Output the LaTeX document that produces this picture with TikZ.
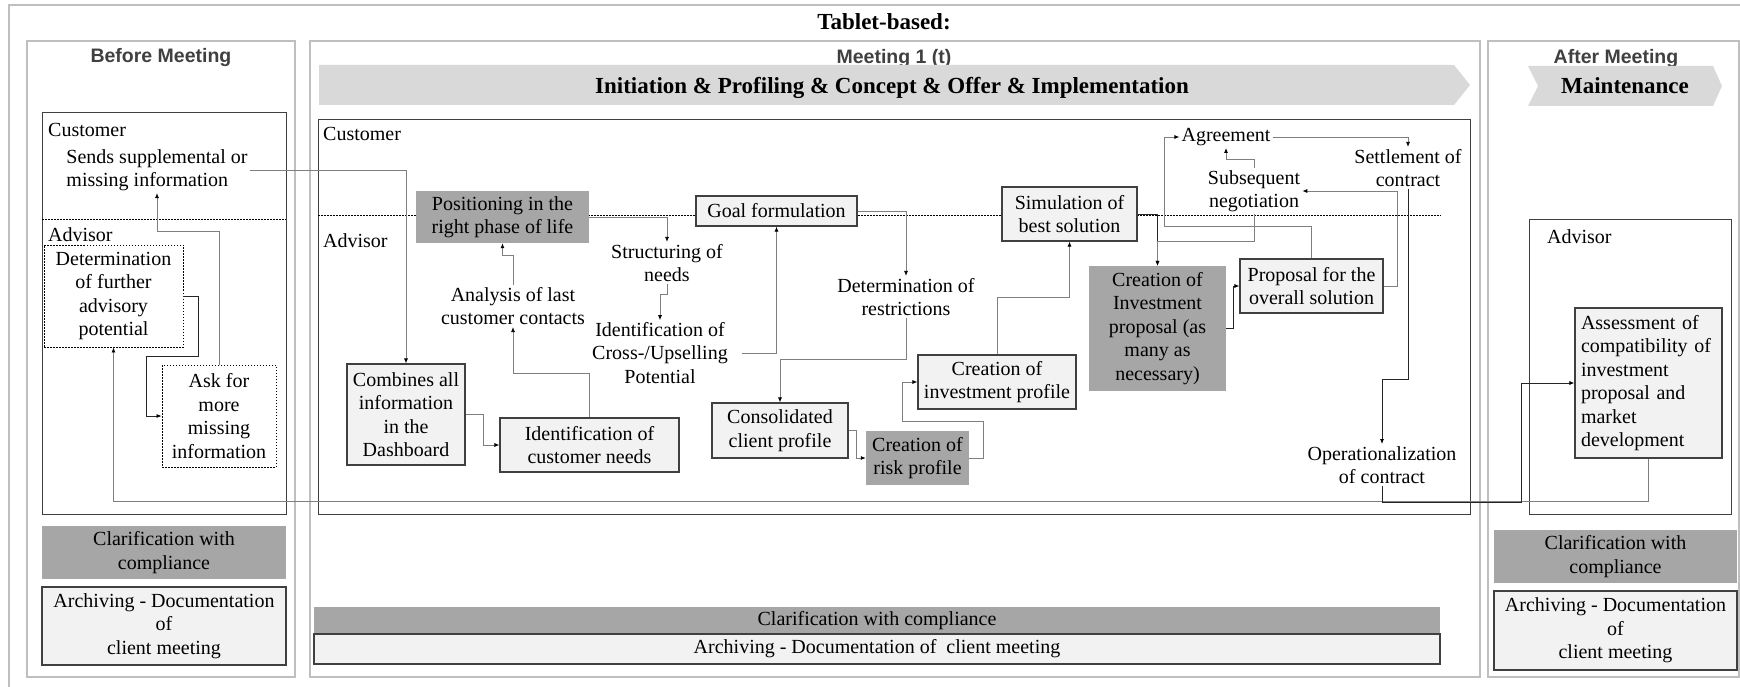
\documentclass[tikz,border=0pt]{standalone}
\usepackage{fontspec}
\setmainfont{Liberation Serif}
\newfontfamily\hdsans{Liberation Sans}
\usetikzlibrary{arrows.meta}
\definecolor{darkfill}{HTML}{A6A6A6}
\definecolor{lightfill}{HTML}{F2F2F2}
\definecolor{chevfill}{HTML}{D9D9D9}
\definecolor{panelline}{HTML}{BFBFBF}
\definecolor{boxline}{HTML}{404040}
\definecolor{lineg}{HTML}{7F7F7F}
\definecolor{titlegray}{HTML}{404040}
\tikzset{
  every node/.style={font=\fontsize{20}{23.5}\selectfont, inner sep=2pt},
  lbox/.style={draw=boxline, fill=lightfill, line width=1.1pt, inner sep=0pt, align=center},
  dbox/.style={fill=darkfill, inner sep=0pt, align=center},
  txt/.style={align=center, inner sep=2pt},
  dotbox/.style={draw=black, dash pattern=on 1.5pt off 1.5pt, line width=0.9pt, inner sep=0pt, align=center},
  conn/.style={draw=lineg, line width=0.8pt, -{Latex[length=5pt,width=4pt,color=black]}},
  connk/.style={conn, draw=black!85},
  panel/.style={draw=panelline, line width=1.2pt},
  lane/.style={draw=boxline, line width=1pt},
  dotline/.style={draw=black, dash pattern=on 1.5pt off 1.5pt, line width=0.8pt},
  chev/.style={fill=chevfill},
  paneltitle/.style={font=\hdsans\bfseries\fontsize{19.5}{22}\selectfont, text=titlegray, anchor=base},
  bighead/.style={font=\bfseries\fontsize{23}{26}\selectfont, anchor=base},
}
\begin{document}
\begin{tikzpicture}[x=1pt,y=-1pt]
\useasboundingbox (0,0) rectangle (1740,687);
\fill[white] (0,0) rectangle (1740,687);
% outer frame
\draw[panel] (1740,5) -- (9,5) -- (9,687);
\node[bighead] (tablet) at (884,30) {Tablet-based:};

% ---------------- panels ----------------
\draw[panel] (27,41) rectangle (295,677);
\draw[panel] (310,41) rectangle (1480,677);
\draw[panel] (1488,41) rectangle (1739,677);

\node[paneltitle] (titleB) at (161,62.5) {Before Meeting};
\node[paneltitle] (titleM) at (894,63.5) {Meeting 1 (t)};
\node[paneltitle] (titleA) at (1616,63.5) {After Meeting};

% chevrons
\fill[chev] (319,65) -- (1454,65) -- (1470,85) -- (1454,105) -- (319,105) -- cycle;
\node[bighead] (phaseM) at (892,94) {Initiation \& Profiling \& Concept \& Offer \& Implementation};
\fill[chev] (1528,66) -- (1713,66) -- (1722,86) -- (1713,106) -- (1528,106) -- (1538,86) -- cycle;
\node[bighead] (phaseA) at (1625,94) {Maintenance};

% ---------------- Before Meeting ----------------
\draw[lane] (42,113) rectangle (286,514);
\draw[dotline] (42,219) -- (286,219);
\node[txt, anchor=west] (custB) at (46,130) {Customer};
\node[txt, anchor=west] (advB) at (46,235) {Advisor};
\node[txt, align=left] (sends) at (157,170) {Sends supplemental or\\missing information};
\node[dotbox, minimum width=139, minimum height=102] (det) at (113.5,296) {Determination\\of further\\advisory\\potential};
\node[dotbox, minimum width=114, minimum height=102] (ask) at (219,416) {Ask for\\more\\missing\\information};
\node[dbox, minimum width=244, minimum height=53] (clarB) at (164,552.5) {Clarification with\\compliance};
\node[lbox, minimum width=244, minimum height=78] (archB) at (164,626) {Archiving - Documentation\\of\\client meeting};

% ---------------- Meeting ----------------
\draw[lane] (318,120) rectangle (1470,514);
\draw[dotline] (318,215) -- (1441,215);
\node[txt, anchor=west] (custM) at (321,134) {Customer};
\node[txt, anchor=west] (advM) at (321,241) {Advisor};

\node[dbox, minimum width=173, minimum height=52] (pos) at (502.5,217) {Positioning in the\\right phase of life};
\node[txt] (analysis) at (513,306) {Analysis of last\\customer contacts};
\node[lbox, minimum width=118, minimum height=101] (comb) at (406,414.5) {Combines all\\information\\in the\\Dashboard};
\node[lbox, minimum width=179, minimum height=54] (idneeds) at (589.5,445) {Identification of\\customer needs};
\node[txt] (struct) at (667,263) {Structuring of\\needs};
\node[txt] (cross) at (660,353) {Identification of\\Cross-/Upselling\\Potential};
\node[lbox, minimum width=161, minimum height=30] (goal) at (776.5,211) {Goal formulation};
\node[txt] (restr) at (906,297) {Determination of\\restrictions};
\node[lbox, minimum width=136, minimum height=55] (consol) at (780,430.5) {Consolidated\\client profile};
\node[dbox, minimum width=103, minimum height=54] (risk) at (917.5,458) {Creation of\\risk profile};
\node[lbox, minimum width=158, minimum height=54] (invprof) at (997,382) {Creation of\\investment profile};
\node[lbox, minimum width=135, minimum height=54] (sim) at (1069.5,214) {Simulation of\\best solution};
\node[dbox, minimum width=137, minimum height=125] (cip) at (1157.5,328.5) {Creation of\\Investment\\proposal (as\\many as\\necessary)};
\node[lbox, minimum width=143, minimum height=54] (prop) at (1311.5,286) {Proposal for the\\overall solution};
\node[txt] (agree) at (1226,137) {Agreement};
\node[txt] (subneg) at (1254,191) {Subsequent\\negotiation};
\node[txt] (settle) at (1408,168) {Settlement of\\contract};
\node[txt] (oper) at (1382,465) {Operationalization\\of contract};

\node[dbox, minimum width=1126, minimum height=27] (clarM) at (877,620.5) {Clarification with compliance};
\node[lbox, minimum width=1126, minimum height=30] (archM) at (877,649) {Archiving - Documentation of\ \ client meeting};

% ---------------- After Meeting ----------------
\draw[lane] (1529,220) rectangle (1731,514);
\node[txt, anchor=west] (advA) at (1545,237) {Advisor};
\node[lbox, minimum width=147, minimum height=150, text width=135, inner sep=6pt, align=left] (assess) at (1648.5,383) {Assessment of\\compatibility of\\investment\\proposal and\\market\\development};
\node[dbox, minimum width=243, minimum height=53] (clarA) at (1615.5,556.5) {Clarification with\\compliance};
\node[lbox, minimum width=243, minimum height=79] (archA) at (1615.5,630.5) {Archiving - Documentation\\of\\client meeting};

% ---------------- connectors ----------------
\draw[conn] (sends.east) -| (comb.north);
\draw[connk] (det.east) -- ++(15,0) -- ++(0,60) -| ([xshift=-15pt]ask.west) -- (ask.west);
\draw[conn] (ask.north) -- ++(0,-133) -| (sends.south);
\draw[conn] (assess.south) -- ++(0,43) -| (det.south);
\draw[connk] (oper.south) -- ++(0,16) -| ([xshift=-53pt]assess.west) -- (assess.west);

\draw[conn] (comb.east) -- ++(18,0) |- (idneeds.west);
\draw[conn] (idneeds.north) -- ++(0,-44) -| (analysis.south);
\draw[conn] (analysis.north) -- ++(0,-30) -| (pos.south);
\draw[conn] (pos.east) -| (struct.north);
\draw[conn] (struct.south) -- ++(0,10) -| (cross.north);
\draw[conn] ([xshift=12pt]cross.east) -| (goal.south);
\draw[conn] (goal.east) -| (restr.north);
\draw[conn] (restr.south) -- ++(0,41) -| (consol.north);
\draw[conn] (consol.east) -- ++(8,0) |- (risk.west);
\draw[conn] (risk.east) -- ++(14,0) -- ++(0,-37) -| ([xshift=-15pt]invprof.west) -- (invprof.west);
\draw[conn] (invprof.north) -- ++(0,-57) -| (sim.south);
\draw[connk] (sim.east) -| (cip.north);
\draw[conn] (subneg.south) -- ++(0,27) -| (cip.north);
\draw[conn] (prop.north) -- ++(0,-32) -| ([xshift=-15pt]agree.west) -- (agree.west);
\draw[conn] (subneg.north) -- ++(0,-9) -| (agree.south);
\draw[conn] (agree.east) -| (settle.north);
\draw[conn] (prop.east) -- ++(14,0) |- (subneg.east);
\draw[connk] (settle.south) -- ++(0,190) -| (oper.north);
\draw[connk] (cip.east) -- ++(7,0) |- (prop.west);
\end{tikzpicture}
\end{document}
